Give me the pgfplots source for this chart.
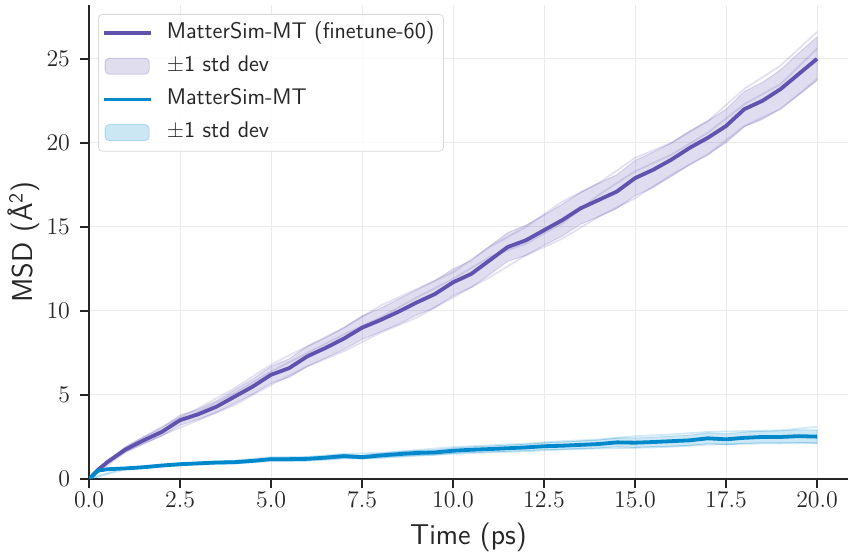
\documentclass[border=0pt]{standalone}
\usepackage{pgfplots}
\usepackage{pgfplotstable}
\pgfplotsset{compat=1.18}
\usepgfplotslibrary{fillbetween}

\definecolor{ftpurple}{RGB}{96,83,175}
\definecolor{baseblue}{RGB}{0,136,204}
\definecolor{gridgray}{RGB}{235,235,235}
\definecolor{spine}{RGB}{38,38,38}

\pgfplotsset{
  lineleg/.style={legend image code/.code={\draw[##1] (0bp,0bp) -- (23.5bp,0bp); \path (28bp,0bp);}},
  bandleg/.style={legend image code/.code={\draw[##1] (0.5bp,-4bp) rectangle (22.5bp,4bp); \path (28bp,0bp);}},
}

% mean MSD with lower/upper (mean -/+ 1 std) bounds
\pgfplotstableread{
t     m      lo     hi
0     0      0      0
0.25  0.55   0.50   0.60
0.5   1.0    0.9    1.1
1.0   1.75   1.6    1.9
1.5   2.3    2.1    2.5
2.0   2.8    2.55   3.05
2.5   3.5    3.2    3.8
3.0   3.85   3.55   4.15
3.5   4.3    3.95   4.65
4.0   4.9    4.5    5.3
4.5   5.5    5.05   5.95
5.0   6.2    5.7    6.7
5.5   6.6    6.05   7.15
6.0   7.3    6.7    7.9
6.5   7.8    7.2    8.4
7.0   8.35   7.7    9.0
7.5   9.0    8.3    9.7
8.0   9.45   8.75   10.15
8.5   9.95   9.2    10.7
9.0   10.5   9.75   11.25
9.5   11.0   10.2   11.8
10.0  11.7   10.9   12.5
10.5  12.2   11.4   13.0
11.0  13.0   12.15  13.85
11.5  13.8   12.95  14.65
12.0  14.2   13.3   15.1
12.5  14.8   13.9   15.7
13.0  15.4   14.45  16.35
13.5  16.1   15.15  17.05
14.0  16.6   15.6   17.6
14.5  17.1   16.1   18.1
15.0  17.9   16.85  18.95
15.5  18.4   17.35  19.45
16.0  19.0   18.0   20.0
16.5  19.7   18.7   20.7
17.0  20.3   19.3   21.3
17.5  21.0   20.0   22.0
18.0  22.0   20.95  23.05
18.5  22.5   21.4   23.6
19.0  23.2   22.05  24.35
19.5  24.1   22.85  25.35
20.0  25.0   23.7   26.3
}\finetune

\pgfplotstableread{
t     m      lo     hi
0     0      0      0
0.25  0.50   0.48   0.52
0.5   0.58   0.55   0.61
1.0   0.63   0.59   0.67
1.5   0.70   0.65   0.75
2.0   0.80   0.75   0.85
2.5   0.88   0.82   0.94
3.0   0.93   0.87   0.99
3.5   0.98   0.91   1.05
4.0   1.00   0.92   1.08
4.5   1.08   1.00   1.16
5.0   1.18   1.09   1.27
5.5   1.18   1.08   1.28
6.0   1.20   1.10   1.30
6.5   1.27   1.16   1.38
7.0   1.36   1.24   1.48
7.5   1.30   1.18   1.42
8.0   1.40   1.27   1.53
8.5   1.48   1.34   1.62
9.0   1.55   1.40   1.70
9.5   1.58   1.43   1.73
10.0  1.68   1.52   1.84
10.5  1.74   1.57   1.91
11.0  1.78   1.60   1.96
11.5  1.83   1.64   2.02
12.0  1.88   1.68   2.08
12.5  1.95   1.74   2.16
13.0  1.98   1.76   2.20
13.5  2.03   1.80   2.26
14.0  2.08   1.84   2.32
14.5  2.18   1.92   2.44
15.0  2.16   1.88   2.44
15.5  2.20   1.91   2.49
16.0  2.25   1.95   2.55
16.5  2.30   1.99   2.61
17.0  2.42   2.10   2.74
17.5  2.36   2.03   2.69
18.0  2.45   2.11   2.79
18.5  2.50   2.15   2.85
19.0  2.50   2.14   2.86
19.5  2.55   2.17   2.93
20.0  2.52   2.12   2.92
}\base

% individual runs
\pgfplotstableread{
t   a     b     c
0   0     0     0
1   1.9   1.6   1.8
2   3.1   2.6   2.9
3   4.2   3.5   4.0
4   5.4   4.4   5.1
5   6.8   5.6   6.4
6   7.9   6.7   7.5
7   9.0   7.6   8.6
8   10.3  8.7   9.6
9   11.3  9.6   10.8
10  12.3  10.8  11.9
11  13.8  12.0  13.2
12  15.0  13.3  14.0
13  16.5  14.3  15.2
14  17.6  15.6  16.9
15  19.1  16.7  18.3
16  20.0  18.1  19.3
17  21.3  19.3  20.6
18  23.2  21.0  22.3
19  24.6  22.0  23.5
20  26.6  23.8  25.6
}\finetuneruns

\pgfplotstableread{
t   a     b
0   0     0
1   0.68  0.58
2   0.86  0.74
3   1.00  0.86
4   1.10  0.92
5   1.30  1.06
6   1.32  1.08
7   1.50  1.22
8   1.55  1.25
9   1.72  1.38
10  1.90  1.50
11  2.00  1.58
12  2.10  1.65
13  2.25  1.75
14  2.35  1.82
15  2.55  1.85
16  2.65  1.92
17  2.80  2.05
18  2.85  2.10
19  2.90  2.12
20  3.10  2.15
}\baseruns

\begin{document}
\begin{tikzpicture}
\begin{axis}[
  scale only axis,
  width=379.5bp, height=237bp,
  xmin=0, xmax=20.85, ymin=0, ymax=28.2,
  axis x line*=bottom, axis y line*=left,
  axis line style={spine, line width=0.9bp},
  xtick={0,2.5,...,20}, ytick={0,5,...,25},
  xticklabel style={yshift=1.5bp, /pgf/number format/.cd, fixed, fixed zerofill, precision=1},
  yticklabel style={xshift=-1.5bp},
  tick style={spine, line width=0.9bp},
  major tick length=4.5bp, tick align=outside,
  ticklabel style={font=\fontsize{11.5}{13}\selectfont, text=spine},
  grid=major, major grid style={gridgray, line width=0.5bp},
  xlabel={Time (ps)}, ylabel={MSD (Å\textsuperscript{2})},
  label style={font=\sffamily\fontsize{14.4}{16}\selectfont, text=spine},
  x label style={at={(axis description cs:0.5,0)}, anchor=base, yshift=-32.5bp},
  y label style={at={(axis description cs:0,0.5)}, anchor=base, yshift=28bp},
  legend cell align=left,
  legend style={at={(0,1)}, anchor=north west, xshift=4.5bp, yshift=-4.5bp,
    draw=gray!30, rounded corners=2bp, fill=white, fill opacity=0.8, text opacity=1,
    font=\sffamily\fontsize{11.35}{13}\selectfont, text=spine,
    inner xsep=2bp, inner ysep=1.5bp, row sep=1bp,
    nodes={inner sep=2.5bp, text height=8bp, text depth=2.6bp}},
]
% faint individual runs
\addplot[forget plot, ftpurple, opacity=0.18, line width=0.9bp] table[x=t, y=a]{\finetuneruns};
\addplot[forget plot, ftpurple, opacity=0.18, line width=0.9bp] table[x=t, y=b]{\finetuneruns};
\addplot[forget plot, ftpurple, opacity=0.18, line width=0.9bp] table[x=t, y=c]{\finetuneruns};
\addplot[forget plot, baseblue, opacity=0.18, line width=0.9bp] table[x=t, y=a]{\baseruns};
\addplot[forget plot, baseblue, opacity=0.18, line width=0.9bp] table[x=t, y=b]{\baseruns};

% +-1 std bands
\addplot[forget plot, name path=ftup, draw=none] table[x=t, y=hi]{\finetune};
\addplot[forget plot, name path=ftlo, draw=none] table[x=t, y=lo]{\finetune};
\addplot[forget plot, fill=ftpurple, fill opacity=0.2, draw=ftpurple, draw opacity=0.2, line width=0.5bp] fill between[of=ftup and ftlo];
\addplot[forget plot, name path=bsup, draw=none] table[x=t, y=hi]{\base};
\addplot[forget plot, name path=bslo, draw=none] table[x=t, y=lo]{\base};
\addplot[forget plot, fill=baseblue, fill opacity=0.2, draw=baseblue, draw opacity=0.2, line width=0.5bp] fill between[of=bsup and bslo];

% means
\addplot[forget plot, ftpurple, line width=1.9bp, line join=round] table[x=t, y=m]{\finetune};
\addplot[forget plot, baseblue, line width=1.9bp, line join=round] table[x=t, y=m]{\base};

% legend
\addlegendimage{lineleg, ftpurple, line width=1.75bp}
\addlegendentry{MatterSim-MT (finetune-60)}
\addlegendimage{bandleg, fill=ftpurple, fill opacity=0.2, draw=ftpurple, draw opacity=0.25}
\addlegendentry{±1 std dev}
\addlegendimage{lineleg, baseblue, line width=1.75bp}
\addlegendentry{MatterSim-MT}
\addlegendimage{bandleg, fill=baseblue, fill opacity=0.2, draw=baseblue, draw opacity=0.25}
\addlegendentry{±1 std dev}

\coordinate (SW) at (rel axis cs:0,0);
\coordinate (NE) at (rel axis cs:1,1);
\end{axis}
\pgfresetboundingbox
\path ([shift={(-44.5bp,-36.5bp)}]SW) rectangle ([shift={(0.5bp,2.5bp)}]NE);
\end{tikzpicture}
\end{document}
